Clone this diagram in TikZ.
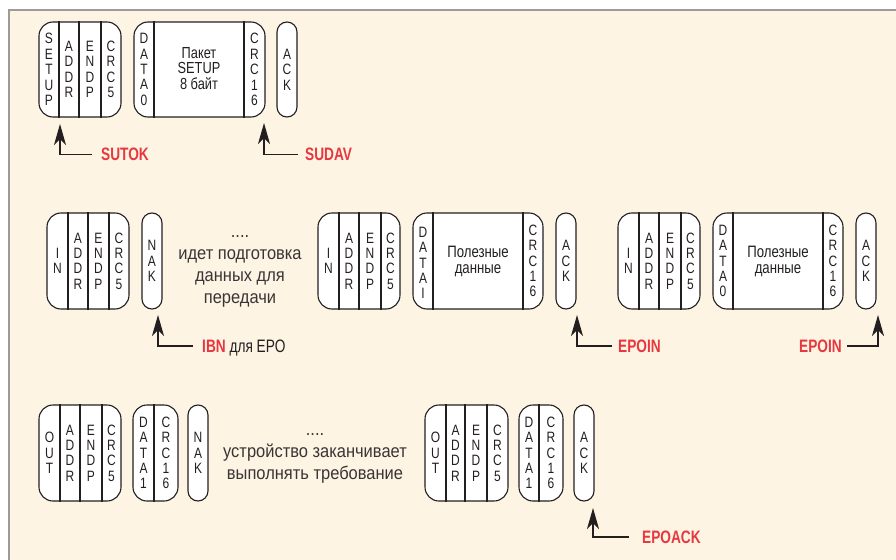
\documentclass[tikz,border=0pt]{standalone}
\usepackage{fontspec}
\newfontfamily\pkfont{Liberation Sans}[FakeStretch=0.8]
\newfontfamily\lbfont{Liberation Sans}[FakeStretch=0.76]
\newfontfamily\txfont{Liberation Sans}[FakeStretch=0.9]
\usetikzlibrary{arrows.meta}
\definecolor{cream}{HTML}{FDF4E3}
\definecolor{framec}{HTML}{9B9B9B}
\definecolor{ink}{HTML}{231F20}
\definecolor{redl}{HTML}{E8373E}
\newcommand\pkt[6]{\node[pkt,rounded corners=#6pt,minimum width={(#4)-(#2)},minimum height={(#5)-(#3)}] (#1) at ({((#2)+(#4))/2},{((#3)+(#5))/2}) {};}
\newcommand\dvd[2]{\draw[divl] (#2,0 |- #1.north) -- (#2,0 |- #1.south);}
\tikzset{
  pkt/.style={draw=ink,fill=white,line width=1.1pt,inner sep=0pt},
  divl/.style={draw=ink,line width=1.1pt},
  col/.style={font=\pkfont\fontsize{15}{15.4}\selectfont,align=center,inner sep=0pt,text=ink},
  mid/.style={font=\pkfont\fontsize{16}{15.5}\selectfont,align=center,inner sep=0pt,text=ink},
  pay/.style={font=\pkfont\fontsize{16.5}{16}\selectfont,align=center,inner sep=0pt,text=ink},
  txt/.style={font=\txfont\fontsize{18.3}{22}\selectfont,align=center,inner sep=0pt,text=ink!90},
  lbl/.style={font=\lbfont\bfseries\fontsize{18}{20}\selectfont,text=redl,inner sep=0pt,text depth=0pt},
  arr/.style={draw=ink,line width=1.3pt,-{Stealth[length=21pt,width=12pt,inset=6pt]}}
}
\begin{document}
\begin{tikzpicture}[x=1pt,y=-1pt]
\clip (0,0) rectangle (896,559);
\fill[white] (0,0) rectangle (896,559);
\draw[draw=framec,fill=cream,line width=2.5pt] (9,10) rectangle (920,590);

% ---------- top row ----------
\pkt{sp}{39}{22}{121}{117}{14}
\dvd{sp}{59}\dvd{sp}{79}\dvd{sp}{101}
\node[col] (sp1) at (49,69.5) {S\\E\\T\\U\\P};
\node[col] (sp2) at (69,69.5) {A\\D\\D\\R};
\node[col] (sp3) at (90,69.5) {E\\N\\D\\P};
\node[col] (sp4) at (111,69.5) {C\\R\\C\\5};

\pkt{sd}{134}{22}{265}{117}{14}
\dvd{sd}{154}\dvd{sd}{244}
\node[col] (sd1) at (144,69.5) {D\\A\\T\\A\\0};
\node[mid] (sd2) at (199,68.5) {Пакет\\SETUP\\8 байт};
\node[col] (sd3) at (254.5,69.5) {C\\R\\C\\1\\6};

\pkt{sa}{277}{22}{297}{117}{10}
\node[col] (sa1) at (287,69.5) {A\\C\\K};

\coordinate (tsutok) at (60,124);
\node[lbl,anchor=west] (lsutok) at (101,154.5) {SUTOK};
\draw[arr] ([xshift=-9pt]lsutok.west) -| (tsutok);

\coordinate (tsudav) at (264,123);
\node[lbl,anchor=west] (lsudav) at (305,154.5) {SUDAV};
\draw[arr] ([xshift=-7pt]lsudav.west) -| (tsudav);

% ---------- middle row ----------
\pkt{ia}{47}{213}{129}{309}{14}
\dvd{ia}{68}\dvd{ia}{88}\dvd{ia}{109}
\node[col] (ia1) at (57.5,261) {I\\N};
\node[col] (ia2) at (78,261) {A\\D\\D\\R};
\node[col] (ia3) at (98.5,261) {E\\N\\D\\P};
\node[col] (ia4) at (119,261) {C\\R\\C\\5};

\pkt{na}{142}{213}{162}{309}{10}
\node[col] (na1) at (152,261) {N\\A\\K};

\node[txt] (t1) at (240,266) {\strut....\\идет подготовка\\данных для\\передачи\strut};

\pkt{ib}{318}{213}{400}{309}{14}
\dvd{ib}{339}\dvd{ib}{359}\dvd{ib}{381}
\node[col] (ib1) at (328.5,261) {I\\N};
\node[col] (ib2) at (349,261) {A\\D\\D\\R};
\node[col] (ib3) at (370,261) {E\\N\\D\\P};
\node[col] (ib4) at (390.5,261) {C\\R\\C\\5};

\pkt{db}{413}{213}{543}{309}{14}
\dvd{db}{433}\dvd{db}{523}
\node[col] (db1) at (423,263) {D\\A\\T\\A\\I};
\node[pay] (db2) at (478,261) {Полезные\\данные};
\node[col] (db3) at (533,261) {C\\R\\C\\1\\6};

\pkt{ab}{556}{213}{576}{309}{10}
\node[col] (ab1) at (566,261) {A\\C\\K};

\pkt{ic}{618}{213}{700}{309}{14}
\dvd{ic}{639}\dvd{ic}{659}\dvd{ic}{681}
\node[col] (ic1) at (628.5,261) {I\\N};
\node[col] (ic2) at (649,261) {A\\D\\D\\R};
\node[col] (ic3) at (670,261) {E\\N\\D\\P};
\node[col] (ic4) at (690.5,261) {C\\R\\C\\5};

\pkt{dc}{713}{213}{843}{309}{14}
\dvd{dc}{733}\dvd{dc}{823}
\node[col] (dc1) at (723,261) {D\\A\\T\\A\\0};
\node[pay] (dc2) at (778,261) {Полезные\\данные};
\node[col] (dc3) at (833,261) {C\\R\\C\\1\\6};

\pkt{ac}{856}{213}{876}{309}{10}
\node[col] (ac1) at (866,261) {A\\C\\K};

\coordinate (tibn) at (158,315);
\node[lbl,anchor=west] (libn) at (202,346) {IBN {\mdseries\color{ink}для EPO}};
\draw[arr] ([xshift=-9pt]libn.west) -| (tibn);

\coordinate (tepa) at (577,315);
\node[lbl,anchor=west] (lepa) at (618,346) {EPOIN};
\draw[arr] ([xshift=-6pt]lepa.west) -| (tepa);

\coordinate (tepb) at (878,315);
\node[lbl,anchor=east] (lepb) at (842,346) {EPOIN};
\draw[arr] ([xshift=5pt]lepb.east) -| (tepb);

% ---------- bottom row ----------
\pkt{oa}{39}{405}{121}{501}{14}
\dvd{oa}{60}\dvd{oa}{80}\dvd{oa}{102}
\node[col] (oa1) at (49.5,453) {O\\U\\T};
\node[col] (oa2) at (70,453) {A\\D\\D\\R};
\node[col] (oa3) at (91,453) {E\\N\\D\\P};
\node[col] (oa4) at (111.5,453) {C\\R\\C\\5};

\pkt{ea}{133}{405}{178}{501}{14}
\dvd{ea}{154}
\node[col] (ea1) at (143.5,453) {D\\A\\T\\A\\1};
\node[col] (ea2) at (166,453) {C\\R\\C\\1\\6};

\pkt{nb}{188}{405}{208}{501}{10}
\node[col] (nb1) at (198,453) {N\\A\\K};

\node[txt] (t2) at (315,453) {\strut....\\устройство заканчивает\\выполнять требование\strut};

\pkt{ob}{425}{405}{508}{501}{14}
\dvd{ob}{446}\dvd{ob}{465}\dvd{ob}{487}
\node[col] (ob1) at (435.5,453) {O\\U\\T};
\node[col] (ob2) at (455.5,453) {A\\D\\D\\R};
\node[col] (ob3) at (476,453) {E\\N\\D\\P};
\node[col] (ob4) at (497.5,453) {C\\R\\C\\5};

\pkt{eb}{519}{405}{563}{501}{14}
\dvd{eb}{539}
\node[col] (eb1) at (529,453) {D\\A\\T\\A\\1};
\node[col] (eb2) at (551,453) {C\\R\\C\\1\\6};

\pkt{ad}{574}{405}{594}{501}{10}
\node[col] (ad1) at (584,453) {A\\C\\K};

\coordinate (tepoack) at (593,508);
\node[lbl,anchor=west] (lepoack) at (642,537) {EPOACK};
\draw[arr] ([xshift=-13pt]lepoack.west) -| (tepoack);
\end{tikzpicture}
\end{document}
